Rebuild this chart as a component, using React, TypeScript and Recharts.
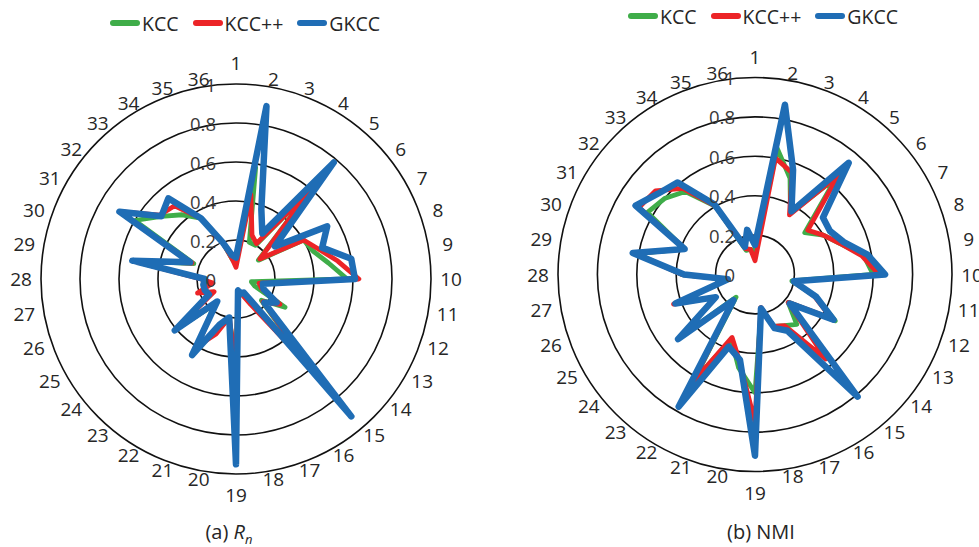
import { PolarAngleAxis, PolarGrid, PolarRadiusAxis, Radar, RadarChart } from 'recharts'

const categories = [
  '1', '2', '3', '4', '5', '6', '7', '8', '9', '10', '11', '12',
  '13', '14', '15', '16', '17', '18', '19', '20', '21', '22', '23', '24',
  '25', '26', '27', '28', '29', '30', '31', '32', '33', '34', '35', '36',
]
const radiusTicks = [0, 0.2, 0.4, 0.6, 0.8, 1]

// (a) Rn
const rnKcc = [0.08, 0.58, 0.2, 0.2, 0.6, 0.15, 0.4, 0.42, 0.48, 0.57, 0.08, 0.1, 0.29, 0.17, 0.55, 0.13, 0.08, 0.06, 0.4, 0.21, 0.27, 0.4, 0.17, 0.39, 0.15, 0.17, 0.15, 0.17, 0.54, 0.23, 0.6, 0.5, 0.43, 0.36, 0.2, 0.1]
const rnKccPlus = [0.06, 0.44, 0.24, 0.21, 0.59, 0.16, 0.4, 0.45, 0.53, 0.63, 0.12, 0.14, 0.26, 0.18, 0.58, 0.15, 0.08, 0.06, 0.45, 0.2, 0.3, 0.4, 0.16, 0.4, 0.13, 0.21, 0.12, 0.18, 0.54, 0.24, 0.69, 0.51, 0.49, 0.36, 0.2, 0.1]
const rnGkcc = [0.11, 0.9, 0.38, 0.27, 0.78, 0.26, 0.54, 0.47, 0.6, 0.61, 0.14, 0.15, 0.24, 0.19, 0.92, 0.08, 0.08, 0.06, 0.95, 0.2, 0.25, 0.45, 0.15, 0.41, 0.16, 0.17, 0.17, 0.16, 0.54, 0.25, 0.69, 0.5, 0.54, 0.36, 0.2, 0.125]

// (b) NMI
const nmiKcc = [0.12, 0.65, 0.52, 0.36, 0.64, 0.33, 0.4, 0.46, 0.56, 0.6, 0.19, 0.33, 0.47, 0.22, 0.33, 0.3, 0.28, 0.18, 0.6, 0.48, 0.35, 0.62, 0.15, 0.5, 0.23, 0.42, 0.14, 0.37, 0.61, 0.38, 0.63, 0.6, 0.55, 0.4, 0.13, 0.13]
const nmiKccPlus = [0.07, 0.6, 0.55, 0.35, 0.66, 0.35, 0.4, 0.46, 0.55, 0.63, 0.2, 0.32, 0.45, 0.22, 0.56, 0.3, 0.28, 0.17, 0.75, 0.45, 0.34, 0.63, 0.17, 0.5, 0.23, 0.44, 0.14, 0.37, 0.62, 0.38, 0.68, 0.66, 0.57, 0.4, 0.14, 0.13]
const nmiGkcc = [0.15, 0.875, 0.565, 0.37, 0.74, 0.45, 0.44, 0.48, 0.58, 0.66, 0.2, 0.33, 0.46, 0.23, 0.81, 0.33, 0.29, 0.175, 0.92, 0.44, 0.39, 0.775, 0.17, 0.51, 0.23, 0.43, 0.14, 0.36, 0.63, 0.38, 0.7, 0.64, 0.61, 0.41, 0.15, 0.23]

const SERIES = [
  { key: 'kcc', name: 'KCC', color: '#3fad49', width: 4.8 },
  { key: 'kccPlus', name: 'KCC++', color: '#ec2427', width: 4.8 },
  { key: 'gkcc', name: 'GKCC', color: '#1f6db5', width: 6.5 },
]

const FONT = '"Open Sans", "Noto Sans", sans-serif'
const TEXT = '#262626'

function buildRows(kcc: number[], kccPlus: number[], gkcc: number[]) {
  return categories.map((name, i) => ({ name, kcc: kcc[i], kccPlus: kccPlus[i], gkcc: gkcc[i] }))
}

// category labels: roughly on an ellipse round the outer ring, wider at the sides
function makeAngleTick(cx: number, cy: number, r: number) {
  return (props: any) => {
    const { payload } = props
    const rad = (payload.coordinate * Math.PI) / 180
    const ux = Math.cos(rad)
    const uy = -Math.sin(rad)
    const label = String(payload.value)
    const extra = Math.abs(ux) < 0.01 ? 13 : 0 // top and bottom labels sit further out
    const x = cx + (r + 20) * ux
    const y = cy + (r + 8 + extra) * uy
    return (
      <text x={x} y={y} textAnchor="middle" dominantBaseline="central" fontSize={19} fontFamily={FONT} fill={TEXT}>
        {label}
      </text>
    )
  }
}

function RadiusTick(props: any) {
  const { x, y, payload } = props
  return (
    <text x={x - 20} y={y} textAnchor="end" dominantBaseline="central" fontSize={18.5} fontFamily={FONT} fill="#3a3a3a">
      {payload.value}
    </text>
  )
}

function Legend({ left, top }: { left: number; top: number }) {
  return (
    <div style={{ position: 'absolute', left, top: top - 13, height: 26, display: 'flex', alignItems: 'center', fontFamily: FONT, fontSize: 19.5, color: TEXT }}>
      {SERIES.map((s) => (
        <div key={s.key} style={{ display: 'flex', alignItems: 'center', marginRight: 14 }}>
          <div style={{ width: 30, height: 6, borderRadius: 3, background: s.color, marginRight: 2 }} />
          <span>{s.name}</span>
        </div>
      ))}
    </div>
  )
}

function Radial({ data, cx, cy, r }: { data: ReturnType<typeof buildRows>; cx: number; cy: number; r: number }) {
  return (
    <RadarChart width={490} height={547} data={data} cx={cx} cy={cy} outerRadius={r} margin={{ top: 0, right: 0, bottom: 0, left: 0 }}>
      <PolarGrid gridType="circle" radialLines={false} stroke="#111" strokeWidth={1.6} />
      <PolarAngleAxis dataKey="name" axisLine={false} tickLine={false} tick={makeAngleTick(cx, cy, r)} />
      <PolarRadiusAxis angle={90} domain={[0, 1]} ticks={radiusTicks} type="number" axisLine={false} tickLine={false} tick={RadiusTick} />
      {SERIES.map((s) => (
        <Radar
          key={s.key}
          dataKey={s.key}
          name={s.name}
          stroke={s.color}
          strokeWidth={s.width}
          strokeLinejoin="round"
          fill="none"
          fillOpacity={0}
          dot={false}
          isAnimationActive={false}
        />
      ))}
    </RadarChart>
  )
}

export default function App() {
  const rnRows = buildRows(rnKcc, rnKccPlus, rnGkcc)
  const nmiRows = buildRows(nmiKcc, nmiKccPlus, nmiGkcc)
  const caption = { position: 'absolute' as const, top: 518, width: 200, textAlign: 'center' as const, fontFamily: FONT, fontSize: 20, color: TEXT }
  return (
    <div style={{ position: 'relative', width: 979, height: 547, background: '#fff', overflow: 'hidden' }}>
      <style>{'body{margin:0}'}</style>
      <div style={{ position: 'absolute', left: 0, top: 0 }}>
        <Radial data={rnRows} cx={236} cy={279} r={195} />
      </div>
      <div style={{ position: 'absolute', left: 490, top: 0 }}>
        <Radial data={nmiRows} cx={265} cy={274.5} r={197} />
      </div>
      <Legend left={110} top={23} />
      <Legend left={628} top={16} />
      <div style={{ ...caption, left: 129 }}>
        (a) <i>R</i>
        <sub style={{ fontSize: 13 }}>
          <i>n</i>
        </sub>
      </div>
      <div style={{ ...caption, left: 661 }}>(b) NMI</div>
    </div>
  )
}
